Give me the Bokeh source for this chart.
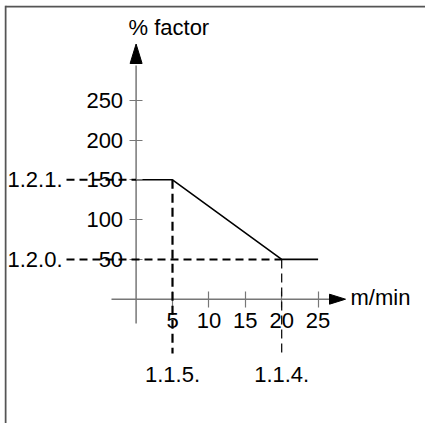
from bokeh.plotting import figure
from bokeh.models import Range1d, LinearAxis, FixedTicker
from bokeh.core.properties import value
from bokeh.embed import file_html
from bokeh.resources import INLINE

# ---- data ----
speed = [0, 5, 20, 25]                 # m/min
factor = [150, 150, 50, 50]            # % factor
x_ticks = [5, 10, 15, 20, 25]
y_ticks = [50, 100, 150, 200, 250]
x_ref_values = [5, 20]
x_ref_labels = ["1.1.5.", "1.1.4."]
x_ref_levels = [150, 50]
y_ref_values = [150, 50]
y_ref_labels = ["1.2.1.", "1.2.0."]
y_ref_ends = [0, 20]
x_title = "m/min"
y_title = "% factor"

# ---- layout (pixels inside the frame) ----
W, H = 421, 418
X0, KX = 131.6, 7.28       # pixel of x=0, px per unit
Y0, KY = 293.7, 0.796      # pixel of y=0 (from top), px per unit


def dx(px):
    return (px - X0) / KX


def dy(py):
    return (Y0 - py) / KY


FONT = "Liberation Sans"
FS = "22px"
AX = "#777777"

p = figure(width=W, height=H, output_backend="svg", toolbar_location=None,
           x_range=Range1d(dx(0), dx(W)), y_range=Range1d(dy(H), dy(0)),
           min_border=0, outline_line_color=None)
p.styles = {"margin-left": "4px", "margin-top": "5px"}
p.xaxis.visible = False
p.yaxis.visible = False
p.xgrid.visible = False
p.ygrid.visible = False
p.background_fill_color = "white"

# frame border (top and left only visible)
p.segment(x0=[dx(1), dx(1)], y0=[dy(0), dy(1)], x1=[dx(1), dx(W)], y1=[dy(H), dy(1)],
          line_color="#555555", line_width=2)

# axes lines and arrow heads
p.segment(x0=[dx(107), 0], y0=[0, dy(318)], x1=[dx(326), 0], y1=[0, dy(60)],
          line_color=AX, line_width=1.5)
p.patch(x=[dx(325), dx(341), dx(325)], y=[dy(288.7), 0, dy(298.7)], color="black")
p.patch(x=[dx(125.6), dx(131.6), dx(137.6)], y=[dy(58), dy(38.5), dy(58)], color="black")

xax = LinearAxis(fixed_location=0, ticker=FixedTicker(ticks=x_ticks),
                 axis_line_color=None, major_tick_in=8, major_tick_out=8,
                 major_tick_line_color=AX, major_tick_line_width=1.2,
                 minor_tick_line_color=None,
                 major_label_text_font=FONT, major_label_text_font_size=FS,
                 major_label_standoff=6, major_label_text_color="black")
yax = LinearAxis(fixed_location=0, ticker=FixedTicker(ticks=y_ticks),
                 axis_line_color=None, major_tick_in=6, major_tick_out=7,
                 major_tick_line_color=AX, major_tick_line_width=1.2,
                 minor_tick_line_color=None,
                 major_label_text_font=FONT, major_label_text_font_size=FS,
                 major_label_standoff=6, major_label_text_color="black")
p.add_layout(xax, "below")
p.add_layout(yax, "left")

# reference dashed lines
p.segment(x0=[dx(62)] * len(y_ref_values), y0=y_ref_values, x1=y_ref_ends, y1=y_ref_values,
          line_color="black", line_width=2, line_dash="8 5", level="overlay")
p.segment(x0=x_ref_values, y0=x_ref_levels, x1=x_ref_values, y1=[dy(348)] * len(x_ref_values),
          line_color="black", line_width=[2.2, 1.2], line_dash="9 5", level="overlay")

# data line
p.line(speed, factor, line_color="black", line_width=1.6)

# reference labels
p.text(x=[dx(58)] * len(y_ref_values), y=y_ref_values, text=y_ref_labels,
       text_font=value(FONT), text_font_size=FS, text_align="right",
       text_baseline="middle", text_color="black")
p.text(x=x_ref_values, y=[dy(369)] * len(x_ref_values), text=x_ref_labels,
       text_font=value(FONT), text_font_size=FS, text_align="center",
       text_baseline="middle", text_color="black")

# axis titles
p.text(x=[dx(346)], y=[dy(292)], text=[x_title], text_font=value(FONT), text_font_size=FS,
       text_align="left", text_baseline="middle", text_color="black")
p.text(x=[dx(124)], y=[dy(22)], text=[y_title], text_font=value(FONT), text_font_size=FS,
       text_align="left", text_baseline="middle", text_color="black")

open("out.html", "w").write(file_html(p, INLINE))
